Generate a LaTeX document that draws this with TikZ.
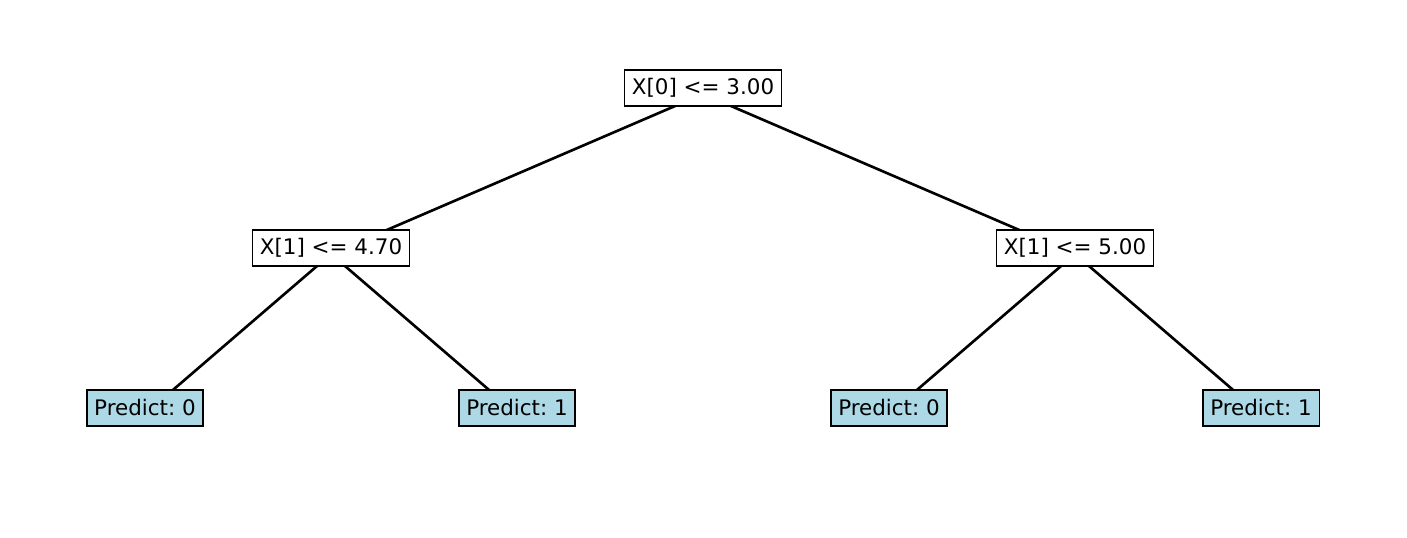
\documentclass[tikz,border=0pt]{standalone}
\usepackage{fontspec}
\setmainfont{DejaVu Sans}
\usetikzlibrary{backgrounds}
\definecolor{leafblue}{HTML}{ADD8E6}
\frenchspacing
\tikzset{
    splitbox/.style={draw, line width=0.45pt, fill=white, inner xsep=0.075cm, inner ysep=0pt, minimum height=0.36cm, font=\fontsize{6.1}{7}\selectfont},
    leafbox/.style={splitbox, fill=leafblue},
    edge/.style={line width=0.75pt}
}
\begin{document}
\begin{tikzpicture}
    \useasboundingbox (0,0) rectangle (14.07,-5.38);
    % Decision nodes
    \node[splitbox] (root) at (7.03,-0.88) {X[0] <= 3.00};
    \node[splitbox] (left) at (3.31,-2.48) {X[1] <= 4.70};
    \node[splitbox] (right) at (10.75,-2.48) {X[1] <= 5.00};
    % Leaves
    \node[leafbox] (leafA) at (1.45,-4.08) {Predict: 0};
    \node[leafbox] (leafB) at (5.17,-4.08) {Predict: 1};
    \node[leafbox] (leafC) at (8.89,-4.08) {Predict: 0};
    \node[leafbox] (leafD) at (12.61,-4.08) {Predict: 1};
    % Edges
    \begin{pgfonlayer}{background}
        \draw[edge] ([yshift=-0.06cm]root.center) -- ([yshift=-0.06cm]left.center);
        \draw[edge] ([yshift=-0.06cm]root.center) -- ([yshift=-0.06cm]right.center);
        \draw[edge] ([yshift=-0.06cm]left.center) -- ([yshift=-0.06cm]leafA.center);
        \draw[edge] ([yshift=-0.06cm]left.center) -- ([yshift=-0.06cm]leafB.center);
        \draw[edge] ([yshift=-0.06cm]right.center) -- ([yshift=-0.06cm]leafC.center);
        \draw[edge] ([yshift=-0.06cm]right.center) -- ([yshift=-0.06cm]leafD.center);
    \end{pgfonlayer}
\end{tikzpicture}
\end{document}
